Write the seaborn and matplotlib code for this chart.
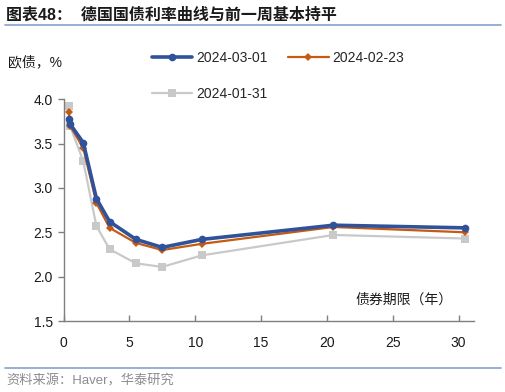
import pandas as pd
import seaborn as sns
import matplotlib.pyplot as plt
from matplotlib.lines import Line2D

# data
maturity = [0.4, 0.5, 1.5, 2.5, 3.5, 5.5, 7.5, 10.5, 20.5, 30.5]
y_0301 = [3.78, 3.72, 3.51, 2.88, 2.62, 2.42, 2.33, 2.42, 2.58, 2.55]
y_0223 = [3.86, 3.70, 3.45, 2.83, 2.55, 2.38, 2.30, 2.37, 2.56, 2.50]
y_0131 = [3.92, 3.70, 3.30, 2.57, 2.31, 2.15, 2.11, 2.24, 2.47, 2.43]
labels = ["2024-03-01", "2024-02-23", "2024-01-31"]

sns.set_style("white")
plt.rcParams['font.family'] = ['Liberation Sans', 'Noto Sans CJK SC', 'DejaVu Sans']

fig = plt.figure(figsize=(5.06, 3.92), dpi=100)
ax = fig.add_axes([0.1255, 0.181, 0.812, 0.566])

sns.lineplot(x=maturity, y=y_0131, ax=ax, color="#C9C9C9", lw=1.6, marker="s",
             markersize=6, markeredgewidth=0, sort=False, estimator=None, label=labels[2])
sns.lineplot(x=maturity, y=y_0223, ax=ax, color="#C55A11", lw=1.6, marker="D",
             markersize=4, markeredgewidth=0, sort=False, estimator=None, label=labels[1])
sns.lineplot(x=maturity, y=y_0301, ax=ax, color="#2F529B", lw=2.6, marker="o",
             markersize=5.5, markeredgewidth=0, sort=False, estimator=None, label=labels[0])

ax.set_xlim(0, 31.2)
ax.set_ylim(1.5, 4.0)
ax.set_xticks([0, 5, 10, 15, 20, 25, 30])
ax.set_yticks([1.5, 2.0, 2.5, 3.0, 3.5, 4.0])
ax.yaxis.set_major_formatter(plt.FormatStrFormatter('%.1f'))
for s in ["top", "right"]:
    ax.spines[s].set_visible(False)
for s in ["left", "bottom"]:
    ax.spines[s].set_color("#7F7F7F")
    ax.spines[s].set_linewidth(1.0)
ax.tick_params(axis="y", direction="out", length=4, width=1, color="#7F7F7F",
               labelsize=10, labelcolor="#1a1a1a", left=True)
ax.tick_params(axis="x", direction="in", length=4, width=1, color="#7F7F7F",
               labelsize=10, labelcolor="#1a1a1a", bottom=True, pad=11)
ax.set_xlabel("")
ax.set_ylabel("")

# legend: row 1 = 03-01, 02-23 ; row 2 = 01-31 (legend fills column-wise)
handles, labs = ax.get_legend_handles_labels()
order = [2, 0, 1]
ax.get_legend().remove()
fig.legend([handles[i] for i in order], [labs[i] for i in order], ncol=2,
           loc="upper left", bbox_to_anchor=(0.275, 0.903), frameon=False,
           fontsize=10, handlelength=2.9, handletextpad=0.3, columnspacing=1.5,
           labelspacing=1.6)

fig.text(0.702, 0.235, "债券期限（年）", fontsize=10, color="#1a1a1a", va="center")
fig.text(0.016, 0.842, "欧债，%", fontsize=10, color="#1a1a1a", va="center")

fig.text(0.012, 0.962, "图表48：  德国国债利率曲线与前一周基本持平", fontsize=11.5,
         fontweight="bold", color="#1a1a1a", va="center")
fig.add_artist(Line2D([0.01, 0.99], [0.937, 0.937], color="#8EA9D1", lw=1.3))
fig.add_artist(Line2D([0.01, 0.99], [0.061, 0.061], color="#8EA9D1", lw=1.3))
fig.text(0.012, 0.028, "资料来源：Haver，华泰研究", fontsize=9.5, color="#8C8C8C",
         va="center")

fig.savefig("out.png", dpi=100)
